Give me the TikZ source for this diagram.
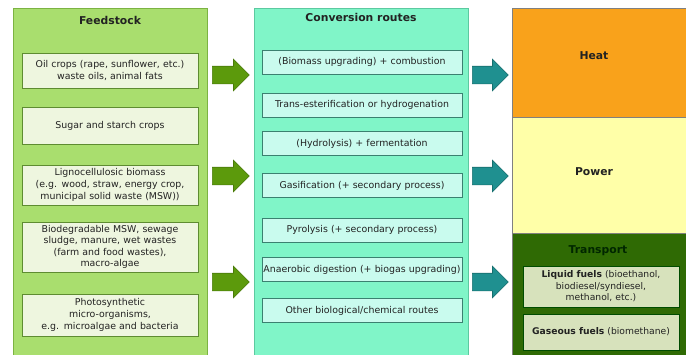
\documentclass[tikz,border=0pt]{standalone}
\usepackage{fontspec}
\setmainfont{DejaVu Sans}
\usetikzlibrary{shapes.arrows}
\definecolor{fcol}{HTML}{A9DE6E}
\definecolor{fcolb}{HTML}{7CB342}
\definecolor{fbox}{HTML}{EEF6DF}
\definecolor{fboxb}{HTML}{5E8C31}
\definecolor{ccol}{HTML}{80F5C8}
\definecolor{ccolb}{HTML}{5CC9A0}
\definecolor{cbox}{HTML}{C9FBEE}
\definecolor{cboxb}{HTML}{3B8070}
\definecolor{heatc}{HTML}{F9A21B}
\definecolor{powerc}{HTML}{FFFFA8}
\definecolor{transc}{HTML}{2F6A04}
\definecolor{tbox}{HTML}{D7E2BC}
\definecolor{garr}{HTML}{5C9A0C}
\definecolor{garrb}{HTML}{4A7A0A}
\definecolor{tarr}{HTML}{1F9090}
\definecolor{tarrb}{HTML}{176E6E}
\definecolor{txt}{HTML}{222222}
\begin{document}
\begin{tikzpicture}[x=1pt,y=-1pt,
  title/.style={font=\fontsize{10.8}{12}\selectfont\bfseries,text=txt},
  fstock/.style={draw=fboxb,fill=fbox,line width=0.8pt,minimum width=176pt,text width=174pt,align=center,inner sep=0pt,font=\fontsize{9.4}{11.6}\selectfont,text=txt},
  croute/.style={draw=cboxb,fill=cbox,line width=0.8pt,minimum width=200pt,minimum height=24pt,text width=200pt,align=center,inner sep=0pt,font=\fontsize{9.4}{11.6}\selectfont,text=txt},
  tfuel/.style={draw=black!70!green,fill=tbox,line width=0.8pt,minimum width=156pt,text width=156pt,align=center,inner sep=0pt,font=\fontsize{9.2}{11.6}\selectfont,text=txt},
  blockarrow/.style={single arrow,single arrow head extend=7pt,single arrow head indent=0pt,inner sep=8.5pt,minimum height=#1,anchor=tail,line width=0.6pt}
]
\useasboundingbox (0,0) rectangle (686,354);
\fill[white] (0,0) rectangle (686,354);
% columns
\path[fill=fcol,draw=fcolb,line width=0.8pt] (13,8) rectangle (207,356);
\path[fill=ccol,draw=ccolb,line width=0.8pt] (254,8) rectangle (468,356);
\path[fill=heatc,draw=black!50,line width=0.6pt] (512,8) rectangle (688,117);
\path[fill=powerc,draw=black!50,line width=0.6pt] (512,117) rectangle (688,233);
\path[fill=transc,draw=black!50,line width=0.6pt] (512,233) rectangle (688,356);
% titles
\node[title] (tfeed) at (110,20) {Feedstock};
\node[title] (tconv) at (361,17) {Conversion routes};
\node[title] (theat) at (594,56) {Heat};
\node[title] (tpower) at (594,172) {Power};
\node[title,text=black!85!green] (ttrans) at (598,251) {Transport};
% feedstock boxes
\node[fstock,minimum height=35pt] (f1) at (110,70.5) {Oil crops (rape, sunflower, etc.)\\waste oils, animal fats};
\node[fstock,minimum height=37pt] (f2) at (110,125.5) {Sugar and starch crops};
\node[fstock,minimum height=40pt] (f3) at (110,185) {Lignocellulosic biomass\\(e.g. wood, straw, energy crop,\\municipal solid waste (MSW))};
\node[fstock,minimum height=50pt] (f4) at (110,247) {Biodegradable MSW, sewage\\sludge, manure, wet wastes\\(farm and food wastes),\\macro-algae};
\node[fstock,minimum height=42pt] (f5) at (110,315) {Photosynthetic\\micro-organisms,\\e.g. microalgae and bacteria};
% conversion boxes
\node[croute] (c1) at (362,62) {(Biomass upgrading) + combustion};
\node[croute] (c2) at (362,105) {Trans-esterification or hydrogenation};
\node[croute] (c3) at (362,143.5) {(Hydrolysis) + fermentation};
\node[croute] (c4) at (362,185.5) {Gasification (+ secondary process)};
\node[croute] (c5) at (362,230) {Pyrolysis (+ secondary process)};
\node[croute] (c6) at (362,269.5) {Anaerobic digestion (+ biogas upgrading)};
\node[croute] (c7) at (362,310.5) {Other biological/chemical routes};
% transport fuels
\node[tfuel,minimum height=41pt] (t1) at (601,286.5) {\textbf{Liquid fuels} (bioethanol,\\biodiesel/syndiesel,\\methanol, etc.)};
\node[tfuel,minimum height=36pt] (t2) at (601,332) {\textbf{Gaseous fuels} (biomethane)};
% arrows
\node[blockarrow=37pt,fill=garr,draw=garrb] (ga1) at (212,75) {};
\node[blockarrow=37pt,fill=garr,draw=garrb] (ga2) at (212,176) {};
\node[blockarrow=37pt,fill=garr,draw=garrb] (ga3) at (212,282) {};
\node[blockarrow=36pt,fill=tarr,draw=tarrb] (ta1) at (472,75) {};
\node[blockarrow=36pt,fill=tarr,draw=tarrb] (ta2) at (472,176) {};
\node[blockarrow=36pt,fill=tarr,draw=tarrb] (ta3) at (472,282) {};
\end{tikzpicture}
\end{document}
